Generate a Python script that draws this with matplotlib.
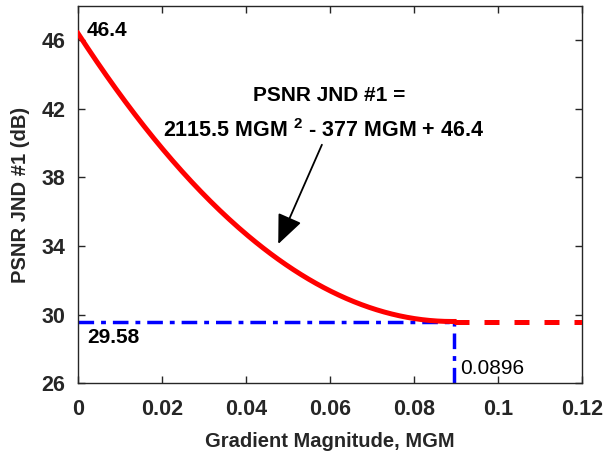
import numpy as np
import matplotlib
matplotlib.use("Agg")
import matplotlib.pyplot as plt

plt.rcParams['font.family'] = ['Liberation Sans', 'DejaVu Sans']
plt.rcParams['mathtext.fontset'] = 'custom'
plt.rcParams['mathtext.rm'] = 'Liberation Sans:bold'
plt.rcParams['mathtext.it'] = 'Liberation Sans:bold'
plt.rcParams['mathtext.default'] = 'rm'

# Quadratic fit of PSNR JND #1 versus gradient magnitude
coef_a = 2115.5
coef_b = -377.0
coef_c = 46.4
mgm_knee = 0.0896
psnr_floor = 29.58

x_ticks = [0, 0.02, 0.04, 0.06, 0.08, 0.1, 0.12]
x_tick_labels = ["0", "0.02", "0.04", "0.06", "0.08", "0.1", "0.12"]
y_ticks = [26, 30, 34, 38, 42, 46]
y_tick_labels = ["26", "30", "34", "38", "42", "46"]

gray = "#262626"

fig = plt.figure(figsize=(6.03, 4.55), dpi=100)
ax = fig.add_axes([0.1294, 0.1576, 0.8353, 0.8292])

mgm = np.linspace(0, mgm_knee, 200)
psnr = coef_a * mgm**2 + coef_b * mgm + coef_c

# Blue reference lines at the knee
ax.plot([0, mgm_knee], [psnr_floor, psnr_floor], color="#0000ff", lw=2.5,
        dashes=(4.5, 2, 1.4, 2), solid_capstyle="butt", zorder=2)
ax.plot([mgm_knee, mgm_knee], [26, psnr_floor], color="#0000ff", lw=2.5,
        dashes=(4.5, 2, 1.4, 2), solid_capstyle="butt", zorder=2)

# Fitted curve and constant tail
ax.plot(mgm, psnr, color="#ff0000", lw=3.6, zorder=3)
ax.plot([mgm_knee, 0.12], [psnr_floor, psnr_floor], color="#ff0000", lw=3.6,
        dashes=(3, 3), zorder=3)

ax.set_xlim(0, 0.12)
ax.set_ylim(26, 48)
ax.set_xticks(x_ticks)
ax.set_xticklabels(x_tick_labels)
ax.set_yticks(y_ticks)
ax.set_yticklabels(y_tick_labels)
ax.tick_params(direction="in", length=5, width=1, colors=gray, top=True, right=True,
               labelsize=15.5)
ax.tick_params(axis="x", pad=11)
ax.tick_params(axis="y", pad=9)
for lab in ax.get_xticklabels() + ax.get_yticklabels():
    lab.set_fontweight("bold")
for sp in ax.spines.values():
    sp.set_color(gray)
    sp.set_linewidth(1)

ax.set_xlabel("Gradient Magnitude, MGM", fontsize=14.5, fontweight="bold", color=gray, labelpad=9)
ax.set_ylabel("PSNR JND #1 (dB)", fontsize=14.5, fontweight="bold", color=gray, labelpad=8)

ax.text(0.0021, 46.55, f"{coef_c}", fontsize=15, fontweight="bold", va="center", ha="left")
ax.text(0.0021, 28.69, f"{psnr_floor}", fontsize=15, fontweight="bold", va="center", ha="left")
ax.text(0.091, 26.89, f"{mgm_knee}", fontsize=15, va="center", ha="left")

ax.text(0.0598, 42.77, "PSNR JND #1 =", fontsize=15, fontweight="bold", ha="center", va="center")
ax.text(0.0586, 40.74, f"{coef_a} MGM $^{{2}}$ - {-coef_b:.0f} MGM + {coef_c}",
        fontsize=15.5, fontweight="bold", ha="center", va="center")

ax.annotate("", xy=(0.0477, 34.12), xytext=(0.0581, 39.91),
            arrowprops=dict(arrowstyle="-|>,head_length=1.4,head_width=0.6",
                            color="black", lw=1.3, mutation_scale=13,
                            shrinkA=0, shrinkB=0))

fig.savefig("out.png", dpi=100)
